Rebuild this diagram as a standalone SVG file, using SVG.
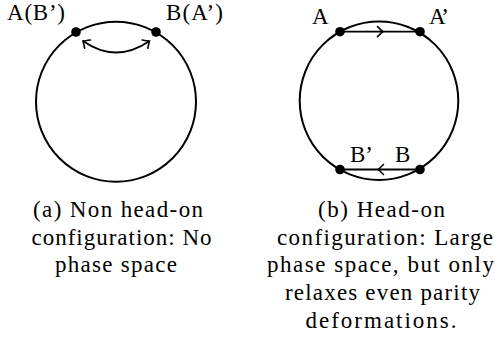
<svg xmlns="http://www.w3.org/2000/svg" width="495" height="341" viewBox="0 0 495 341">
<style>
.c{fill:none;stroke:#000;stroke-width:2}
.d{fill:#000}
.l{fill:none;stroke:#000;stroke-width:1.8}
text{font-family:'Liberation Serif','DejaVu Serif',serif;font-size:23px;fill:#000}
.m{text-anchor:middle}
</style>
<defs>
<marker id="tip" markerUnits="userSpaceOnUse" markerWidth="14" markerHeight="14" refX="0" refY="0" viewBox="-7 -7 14 14" orient="auto-start-reverse" overflow="visible">
<path d="M-5.5,-5 Q-1.5,-1.2 0,0 Q-1.5,1.2 -5.5,5" fill="none" stroke="#000" stroke-width="1.6" stroke-linecap="round"/>
</marker>
</defs>
<g id="circleA">
<circle class="c" cx="116" cy="101.7" r="80"/>
</g>
<g id="nodeA_left">
<circle class="d" cx="76" cy="32" r="4.8"/>
<text x="7" y="19.5" textLength="58">A(B’)</text>
</g>
<g id="nodeB_left">
<circle class="d" cx="156" cy="32" r="4.8"/>
<text x="166" y="19.5" textLength="57">B(A’)</text>
</g>
<g id="circleB">
<circle class="c" cx="379" cy="100.7" r="79.3"/>
</g>
<g id="nodeA">
<circle class="d" cx="340" cy="31.7" r="4.8"/>
<text x="312" y="23.5" textLength="16">A</text>
</g>
<g id="nodeA2">
<circle class="d" cx="420" cy="31.7" r="4.8"/>
<text x="429" y="23.5" textLength="20">A’</text>
</g>
<g id="nodeB2">
<circle class="d" cx="340" cy="169.5" r="4.8"/>
<text x="350" y="162" textLength="23">B’</text>
</g>
<g id="nodeB">
<circle class="d" cx="420" cy="169.5" r="4.8"/>
<text x="395" y="162" textLength="15.5">B</text>
</g>
<g id="connectors">
<path class="l" d="M83,41 Q116,64 149.5,41" marker-start="url(#tip)" marker-end="url(#tip)"/>
<path class="l" d="M340,31.7 L383,31.7 L420,31.7" marker-mid="url(#tip)"/>
<path class="l" d="M420,169.5 L378,169.5 L340,169.5" marker-mid="url(#tip)"/>
</g>
<g id="captionA">
<text class="m" x="118" y="216.7" textLength="170">(a) Non head-on</text>
<text class="m" x="121.5" y="244.7" textLength="180">configuration: No</text>
<text class="m" x="116" y="272.3" textLength="122">phase space</text>
</g>
<g id="captionB">
<text class="m" x="381.5" y="216.7" textLength="127">(b) Head-on</text>
<text class="m" x="385" y="244.7" textLength="216">configuration: Large</text>
<text class="m" x="380.5" y="272.3" textLength="227">phase space, but only</text>
<text class="m" x="382.5" y="300" textLength="195">relaxes even parity</text>
<text class="m" x="381" y="328" textLength="151">deformations.</text>
</g>
</svg>
